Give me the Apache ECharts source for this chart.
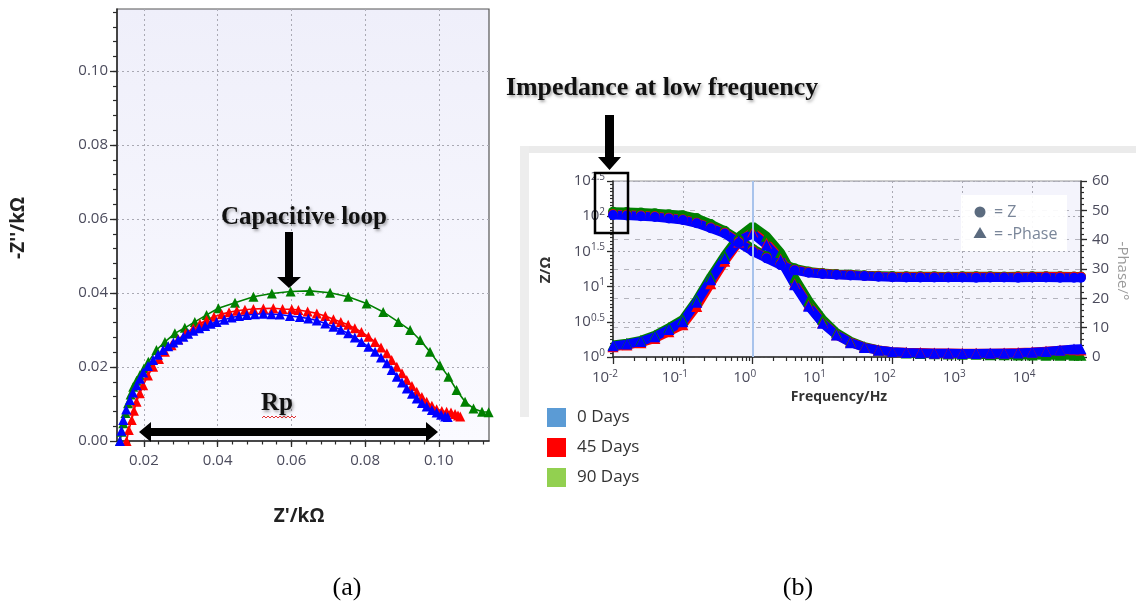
<!DOCTYPE html>
<html>
<head>
<meta charset="utf-8">
<script src="https://cdn.jsdelivr.net/npm/echarts@6/dist/echarts.min.js"></script>
<style>
html,body{margin:0;padding:0;background:#ffffff;}
#chart{width:1136px;height:602px;}
</style>
</head>
<body>
<div id="chart"></div>
<script>
// ---------- Nyquist plot (a): [Z' (kΩ), -Z'' (kΩ)] ----------
const nyquist0Days = [
  [0.0135,0.0000],[0.0139,0.0028],[0.0144,0.0057],[0.0152,0.0085],[0.0162,0.0111],
  [0.0170,0.0131],[0.0180,0.0151],[0.0189,0.0168],[0.0198,0.0185],[0.0211,0.0203],
  [0.0225,0.0219],[0.0238,0.0233],[0.0252,0.0246],[0.0266,0.0256],[0.0280,0.0266],
  [0.0293,0.0274],[0.0307,0.0282],[0.0320,0.0290],[0.0334,0.0298],[0.0350,0.0305],
  [0.0366,0.0311],[0.0381,0.0317],[0.0397,0.0322],[0.0418,0.0328],[0.0438,0.0334],
  [0.0458,0.0338],[0.0479,0.0341],[0.0501,0.0343],[0.0524,0.0344],[0.0546,0.0343],
  [0.0569,0.0342],[0.0596,0.0338],[0.0623,0.0335],[0.0646,0.0331],[0.0669,0.0326],
  [0.0692,0.0318],[0.0714,0.0309],[0.0734,0.0301],[0.0754,0.0291],[0.0772,0.0280],
  [0.0790,0.0268],[0.0809,0.0255],[0.0827,0.0241],[0.0843,0.0226],[0.0859,0.0210],
  [0.0872,0.0192],[0.0886,0.0174],[0.0900,0.0158],[0.0913,0.0142],[0.0927,0.0128],
  [0.0940,0.0115],[0.0954,0.0103],[0.0967,0.0093],[0.0981,0.0084],[0.0994,0.0077],
  [0.1006,0.0071],[0.1017,0.0066],[0.1024,0.0065]
];
const nyquist45Days = [
  [0.0153,0.0000],[0.0159,0.0030],[0.0167,0.0057],[0.0173,0.0082],[0.0180,0.0106],
  [0.0189,0.0129],[0.0198,0.0151],[0.0211,0.0177],[0.0225,0.0201],[0.0241,0.0222],
  [0.0257,0.0241],[0.0275,0.0259],[0.0293,0.0275],[0.0313,0.0291],[0.0334,0.0305],
  [0.0352,0.0317],[0.0370,0.0327],[0.0390,0.0336],[0.0411,0.0343],[0.0431,0.0348],
  [0.0452,0.0352],[0.0474,0.0355],[0.0497,0.0357],[0.0524,0.0358],[0.0551,0.0359],
  [0.0576,0.0357],[0.0601,0.0356],[0.0619,0.0354],[0.0644,0.0350],[0.0669,0.0345],
  [0.0692,0.0338],[0.0714,0.0329],[0.0734,0.0322],[0.0754,0.0314],[0.0772,0.0305],
  [0.0790,0.0295],[0.0809,0.0282],[0.0827,0.0268],[0.0843,0.0253],[0.0859,0.0237],
  [0.0872,0.0219],[0.0886,0.0201],[0.0900,0.0183],[0.0913,0.0165],[0.0927,0.0149],
  [0.0940,0.0133],[0.0954,0.0119],[0.0967,0.0106],[0.0981,0.0095],[0.0994,0.0086],
  [0.1008,0.0081],[0.1021,0.0079],[0.1033,0.0077],[0.1044,0.0073],[0.1052,0.0069],
  [0.1058,0.0066]
];
const nyquist90Days = [
  [0.0135,0.0000],[0.0140,0.0025],[0.0144,0.0048],[0.0150,0.0076],[0.0157,0.0102],
  [0.0164,0.0126],[0.0171,0.0147],[0.0180,0.0163],[0.0189,0.0178],[0.0200,0.0196],
  [0.0212,0.0214],[0.0234,0.0246],[0.0257,0.0268],[0.0284,0.0291],[0.0311,0.0306],
  [0.0338,0.0322],[0.0370,0.0341],[0.0402,0.0359],[0.0447,0.0374],[0.0497,0.0390],
  [0.0547,0.0399],[0.0598,0.0404],[0.0650,0.0406],[0.0705,0.0401],[0.0754,0.0390],
  [0.0804,0.0372],[0.0849,0.0349],[0.0890,0.0322],[0.0922,0.0300],[0.0949,0.0273],
  [0.0976,0.0241],[0.1003,0.0205],[0.1026,0.0174],[0.1048,0.0138],[0.1071,0.0106],
  [0.1094,0.0088],[0.1117,0.0079],[0.1135,0.0078]
];

// ---------- Bode plot (b) ----------
const frequencyHz = [
  0.01, 0.0158, 0.0251, 0.0398, 0.0631, 0.1, 0.158, 0.251, 0.398, 0.631,
  1, 1.58, 2.51, 3.98, 6.31, 10, 15.8, 25.1, 39.8, 63.1,
  100, 158, 251, 398, 631, 1000, 1580, 2510, 3980, 6310,
  10000, 15800, 25100, 39800, 50000
];
// |Z| in Ω
const modulus0Days = [
  104.0, 102.3, 100.0, 97.3, 92.9, 88.1, 79.3, 67.3, 56.9, 41.7,
  31.6, 25.2, 20.2, 17.1, 15.7, 15.1, 14.7, 14.4, 14.1, 13.8,
  13.6, 13.5, 13.5, 13.5, 13.5, 13.5, 13.4, 13.5, 13.5, 13.4,
  13.5, 13.5, 13.4, 13.4, 13.4
];
const modulus45Days = [
  106.5, 104.8, 102.4, 99.6, 95.2, 90.0, 81.0, 69.0, 58.2, 43.0,
  32.4, 25.7, 20.6, 17.4, 16.0, 15.3, 14.9, 14.6, 14.3, 14.0,
  13.85, 13.8, 13.8, 13.8, 13.7, 13.8, 13.8, 13.8, 13.7, 13.8,
  13.8, 13.9, 13.9, 13.8, 13.8
];
const modulus90Days = [
  116.0, 114.6, 112.8, 110.5, 107.0, 103.5, 94.0, 77.5, 62.0, 46.5,
  34.5, 27.0, 21.6, 18.2, 16.4, 15.6, 15.1, 14.8, 14.5, 14.3,
  14.1, 14.0, 14.0, 14.0, 13.9, 14.0, 14.0, 14.0, 13.9, 14.0,
  14.0, 14.0, 14.0, 13.9, 13.9
];
// -Phase in degrees
const phase0Days = [
  3.8, 4.4, 5.3, 6.9, 9.4, 12.0, 18.7, 26.3, 33.6, 39.6,
  42.0, 38.2, 33.0, 24.6, 17.3, 11.5, 7.5, 4.9, 3.2, 2.3,
  1.8, 1.5, 1.4, 1.3, 1.3, 1.2, 1.2, 1.3, 1.3, 1.4,
  1.6, 1.9, 2.3, 2.7, 2.8
];
const phase45Days = [
  3.5, 4.1, 4.9, 6.3, 8.6, 11.0, 17.2, 25.0, 32.6, 39.2,
  42.6, 38.8, 33.4, 25.0, 17.6, 11.7, 7.6, 5.0, 3.3, 2.4,
  1.8, 1.6, 1.5, 1.4, 1.4, 1.3, 1.3, 1.3, 1.4, 1.5,
  1.7, 2.0, 2.3, 2.5, 2.4
];
const phase90Days = [
  4.1, 4.7, 5.7, 7.4, 10.0, 12.8, 19.4, 27.4, 34.6, 41.0,
  44.6, 41.2, 35.6, 27.0, 19.2, 12.9, 8.3, 5.4, 3.5, 2.4,
  1.7, 1.4, 1.2, 1.1, 1.0, 0.9, 0.9, 0.8, 0.8, 0.7,
  0.7, 0.6, 0.6, 0.6, 0.6
];

// ---------- tick labels ----------
const nyquistXTicks = [0.02, 0.04, 0.06, 0.08, 0.10];
const nyquistYTicks = [0.00, 0.02, 0.04, 0.06, 0.08, 0.10];
const decadeTicks = [-2, -1, 0, 1, 2, 3, 4];          // log10(f / Hz)
const modulusTicks = [0, 0.5, 1, 1.5, 2, 2.5];        // log10(|Z| / Ω)
const dayNames = ['0 Days', '45 Days', '90 Days'];
const legendColors = ['#5b9bd5', '#ff0000', '#92d050'];
const seriesColors = ['#0000ff', '#ff0000', '#008000'];

// minor tick positions (axis decoration only)
function steps(from, to, step) {
  const out = [];
  for (let v = from; v <= to + 1e-9; v += step) out.push(Math.round(v * 1e6) / 1e6);
  return out;
}
const logMinor = [];
for (let n = -2; n <= 4; n++) {
  for (let k = 2; k <= 9; k++) {
    const v = n + Math.log10(k);
    if (v <= 4.7) logMinor.push(v);
  }
}

const labelColor = '#4b4b5c';
const tickColor = '#2a2a2a';
const sans = 'Open Sans';
const serif = 'Liberation Serif';

function pairs(xs, ys) { return xs.map((x, i) => [x, ys[i]]); }

const supRich = {
  b: { fontFamily: sans, fontSize: 15, color: labelColor, lineHeight: 18 },
  s: { fontFamily: sans, fontSize: 10, color: labelColor, lineHeight: 10, verticalAlign: 'top' }
};

const chart = echarts.init(document.getElementById('chart'), null, { renderer: 'canvas' });

const nyquistSets = [nyquist0Days, nyquist45Days, nyquist90Days];
const modulusSets = [modulus0Days, modulus45Days, modulus90Days];
const phaseSets = [phase0Days, phase45Days, phase90Days];
const drawOrder = [2, 1, 0];   // 90 days first, 0 days on top

const series = [];
drawOrder.forEach(i => {
  series.push({
    name: dayNames[i], type: 'line', xAxisIndex: 0, yAxisIndex: 0,
    data: nyquistSets[i], symbol: 'triangle', symbolSize: 10, showAllSymbol: true,
    lineStyle: { color: seriesColors[i], width: 1.6 },
    itemStyle: { color: seriesColors[i] }, clip: true, z: 3
  });
});
drawOrder.forEach(i => {
  series.push({
    name: dayNames[i], type: 'line', xAxisIndex: 2, yAxisIndex: 2,
    data: pairs(frequencyHz, modulusSets[i]), symbol: 'circle', symbolSize: 10, showAllSymbol: true,
    lineStyle: { color: seriesColors[i], width: 9, cap: 'butt' },
    itemStyle: { color: seriesColors[i] }, clip: true, z: 3
  });
  series.push({
    name: dayNames[i], type: 'line', xAxisIndex: 2, yAxisIndex: 3,
    data: pairs(frequencyHz, phaseSets[i]), symbol: 'triangle', symbolSize: 11, showAllSymbol: true,
    lineStyle: { color: seriesColors[i], width: 9, cap: 'butt' },
    itemStyle: { color: seriesColors[i] }, clip: true, z: 3
  });
});
// cursor line at 1 Hz
series.push({
  type: 'line', xAxisIndex: 2, yAxisIndex: 3, data: [], silent: true,
  markLine: {
    silent: true, symbol: 'none', label: { show: false },
    lineStyle: { color: '#a8c3ec', width: 2, type: 'solid' },
    data: [{ xAxis: 1 }]
  },
  z: 1
});

// axis that only carries the data scale
function scaleAxis(extra) {
  return Object.assign({
    axisLine: { show: false, onZero: false }, axisTick: { show: false },
    axisLabel: { show: false }, splitLine: { show: false }
  }, extra);
}
// axis that only draws minor ticks
function minorAxis(extra, values, len) {
  return Object.assign({
    type: 'value',
    axisLine: { show: true, onZero: false, lineStyle: { color: 'rgba(0,0,0,0)', width: 1 } },
    axisTick: { show: true, customValues: values, length: len, lineStyle: { color: tickColor, width: 1.2 } },
    axisLabel: { show: false }, splitLine: { show: false }
  }, extra);
}
const dotted = { show: true, lineStyle: { color: '#a9a9b3', type: [2, 3], width: 1 } };
const solidAxisLine = { show: true, onZero: false, lineStyle: { color: tickColor, width: 1.5 } };
const majorTick = (values, len) => ({ show: true, customValues: values, length: len, lineStyle: { color: tickColor, width: 1.3 } });

const option = {
  animation: false,
  backgroundColor: '#ffffff',
  grid: [
    {
      left: 117, top: 9, width: 372, height: 432, show: true,
      backgroundColor: { type: 'linear', x: 0, y: 0, x2: 0, y2: 1,
        colorStops: [{ offset: 0, color: '#efeffa' }, { offset: 1, color: '#fafaff' }] },
      borderColor: '#555', borderWidth: 1.2
    },
    {
      left: 613, top: 181, width: 468, height: 176, show: true,
      backgroundColor: '#f4f4fc', borderColor: '#9a9a9a', borderWidth: 1.2
    }
  ],
  legend: {
    orient: 'vertical', left: 547, top: 408, padding: 0,
    itemWidth: 19, itemHeight: 19, itemGap: 11,
    selectedMode: false, icon: 'rect',
    textStyle: { fontFamily: sans, fontSize: 17, color: '#333', lineHeight: 19, padding: [0, 0, 0, 6] },
    data: dayNames.map((n, i) => ({ name: n, icon: 'rect', itemStyle: { color: legendColors[i] } }))
  },
  xAxis: [
    { // 0: Z' axis
      type: 'value', gridIndex: 0, min: 0.0127, max: 0.1136, position: 'bottom',
      axisLine: solidAxisLine,
      axisTick: majorTick(nyquistXTicks, 6),
      axisLabel: { show: true, customValues: nyquistXTicks, formatter: v => v.toFixed(2), margin: 12,
        fontFamily: sans, fontSize: 15, color: labelColor },
      splitLine: dotted
    },
    minorAxis({ gridIndex: 0, min: 0.0127, max: 0.1136, position: 'bottom' }, steps(0.016, 0.112, 0.004), 3.5),
    scaleAxis({ type: 'log', logBase: 10, gridIndex: 1, min: 0.01, max: 50118.72, position: 'bottom' }),
    { // 3: frequency decades
      type: 'value', gridIndex: 1, min: -2, max: 4.7, position: 'bottom',
      axisLine: solidAxisLine,
      axisTick: majorTick(decadeTicks, 7),
      axisLabel: { show: true, customValues: decadeTicks, margin: 12, rich: supRich, padding: [0, 16, 0, 0],
        formatter: v => '{b|10}{s|' + Math.round(v) + '}' },
      splitLine: dotted
    },
    minorAxis({ gridIndex: 1, min: -2, max: 4.7, position: 'bottom' }, logMinor, 4)
  ],
  yAxis: [
    { // 0: -Z'' axis
      type: 'value', gridIndex: 0, min: 0, max: 0.1168, position: 'left',
      axisLine: solidAxisLine,
      axisTick: majorTick(nyquistYTicks, 7),
      axisLabel: { show: true, customValues: nyquistYTicks, formatter: v => v.toFixed(2), margin: 9,
        fontFamily: sans, fontSize: 15, color: labelColor },
      splitLine: dotted
    },
    minorAxis({ gridIndex: 0, min: 0, max: 0.1168, position: 'left' }, steps(0.004, 0.116, 0.004), 4),
    scaleAxis({ type: 'log', logBase: 10, gridIndex: 1, min: 1, max: 316.2278, position: 'left' }),
    { // 3: -Phase
      type: 'value', gridIndex: 1, min: 0, max: 60, interval: 10, position: 'right',
      axisLine: solidAxisLine,
      axisTick: { show: true, length: 6, lineStyle: { color: tickColor, width: 1.3 } },
      axisLabel: { show: true, margin: 11, fontFamily: sans, fontSize: 15, color: labelColor },
      splitLine: { show: true, lineStyle: { color: '#b4b4bd', type: [5, 6], width: 1 } }
    },
    { // 4: |Z| decade labels
      type: 'value', gridIndex: 1, min: 0, max: 2.5, position: 'left',
      axisLine: solidAxisLine,
      axisTick: majorTick(modulusTicks, 6),
      axisLabel: { show: true, customValues: modulusTicks, margin: 8, rich: supRich,
        formatter: v => '{b|10}{s|' + (Math.round(v * 10) / 10) + '}' },
      splitLine: dotted
    },
    minorAxis({ gridIndex: 1, min: 0, max: 2.5, position: 'left' }, steps(0.05, 2.45, 0.05), 3),
    minorAxis({ gridIndex: 1, min: 0, max: 60, position: 'right' }, steps(2, 58, 2), 3)
  ],
  series: series,
  graphic: [
    // frame around panel (b)
    { type: 'rect', z: -5, shape: { x: 520, y: 146, width: 616, height: 7 }, style: { fill: '#ebebeb' } },
    { type: 'rect', z: -5, shape: { x: 520, y: 146, width: 9, height: 271 }, style: { fill: '#ededed' } },
    // symbol key inside panel (b)
    { type: 'rect', z: 5, shape: { x: 961, y: 195, width: 106, height: 56 }, style: { fill: 'rgba(255,255,255,0.92)' } },
    { type: 'circle', z: 6, shape: { cx: 980, cy: 212, r: 5.5 }, style: { fill: '#5b6b7f' } },
    { type: 'polygon', z: 6, shape: { points: [[980, 227], [986.5, 238], [973.5, 238]] }, style: { fill: '#5b6b7f' } },
    { type: 'text', z: 6, x: 994, y: 212, style: { text: '= Z', fontFamily: sans, fontSize: 16, fill: '#7a8699', textVerticalAlign: 'middle' } },
    { type: 'text', z: 6, x: 994, y: 234, style: { text: '= -Phase', fontFamily: sans, fontSize: 16, fill: '#7a8699', textVerticalAlign: 'middle' } },
    // axis titles
    { type: 'text', z: 6, x: 19, y: 228, rotation: Math.PI / 2,
      style: { text: "-Z''/kΩ", fontFamily: sans, fontWeight: 'bold', fontSize: 19, fill: '#222', textAlign: 'center', textVerticalAlign: 'middle' } },
    { type: 'text', z: 6, x: 299, y: 517,
      style: { text: "Z'/kΩ", fontFamily: sans, fontWeight: 'bold', fontSize: 19, fill: '#222', textAlign: 'center', textVerticalAlign: 'middle' } },
    { type: 'text', z: 6, x: 546, y: 270, rotation: Math.PI / 2,
      style: { text: 'Z/Ω', fontFamily: sans, fontWeight: 'bold', fontSize: 15, fill: '#333', textAlign: 'center', textVerticalAlign: 'middle' } },
    { type: 'text', z: 6, x: 839, y: 397,
      style: { text: 'Frequency/Hz', fontFamily: sans, fontWeight: 'bold', fontSize: 14, fill: '#333', textAlign: 'center', textVerticalAlign: 'middle' } },
    { type: 'text', z: 6, x: 1122, y: 271, rotation: -Math.PI / 2,
      style: { text: '-Phase/°', fontFamily: sans, fontSize: 15, fill: '#9a9a9a', textAlign: 'center', textVerticalAlign: 'middle' } },
    // annotations
    { type: 'text', z: 20, x: 304, y: 218,
      style: { text: 'Capacitive loop', fontFamily: serif, fontWeight: 'bold', fontSize: 25, fill: '#111',
        textAlign: 'center', textVerticalAlign: 'middle',
        textShadowColor: 'rgba(0,0,0,0.35)', textShadowBlur: 3, textShadowOffsetX: 1.5, textShadowOffsetY: 1.5 } },
    { type: 'polygon', z: 20, shape: { points: [[285, 232], [293, 232], [293, 277], [301, 277], [289, 288], [277, 277], [285, 277]] },
      style: { fill: '#000' } },
    { type: 'text', z: 20, x: 277, y: 404,
      style: { text: 'Rp', fontFamily: serif, fontWeight: 'bold', fontSize: 25, fill: '#111',
        textAlign: 'center', textVerticalAlign: 'middle',
        textShadowColor: 'rgba(0,0,0,0.35)', textShadowBlur: 3, textShadowOffsetX: 1.5, textShadowOffsetY: 1.5 } },
    { type: 'polyline', z: 20, shape: { points: [[262, 418], [264, 416], [266, 418], [268, 416], [270, 418], [272, 416], [274, 418], [276, 416], [278, 418], [280, 416], [282, 418], [284, 416], [286, 418], [288, 416], [290, 418], [292, 416], [294, 418], [296, 416]] },
      style: { stroke: '#e23030', lineWidth: 1, fill: null } },
    { type: 'polygon', z: 20, shape: { points: [[139, 432], [151, 422], [151, 428], [426, 428], [426, 422], [438, 432], [426, 442], [426, 436], [151, 436], [151, 442]] },
      style: { fill: '#000' } },
    { type: 'text', z: 20, x: 506, y: 89, scaleX: 1.035,
      style: { text: 'Impedance at low frequency', fontFamily: serif, fontWeight: 'bold', fontSize: 25, fill: '#111',
        textVerticalAlign: 'middle',
        textShadowColor: 'rgba(0,0,0,0.35)', textShadowBlur: 3, textShadowOffsetX: 1.5, textShadowOffsetY: 1.5 } },
    { type: 'polygon', z: 20, shape: { points: [[605, 115], [614, 115], [614, 157], [621, 157], [609.5, 170], [598, 157], [605, 157]] },
      style: { fill: '#000' } },
    { type: 'rect', z: 20, shape: { x: 595, y: 173, width: 33, height: 60 },
      style: { fill: null, stroke: '#000', lineWidth: 2.5 } },
    // panel captions
    { type: 'text', z: 6, x: 347, y: 588,
      style: { text: '(a)', fontFamily: serif, fontSize: 26, fill: '#000', textAlign: 'center', textVerticalAlign: 'middle' } },
    { type: 'text', z: 6, x: 798, y: 588,
      style: { text: '(b)', fontFamily: serif, fontSize: 26, fill: '#000', textAlign: 'center', textVerticalAlign: 'middle' } }
  ]
};

chart.setOption(option);
</script>
</body>
</html>
